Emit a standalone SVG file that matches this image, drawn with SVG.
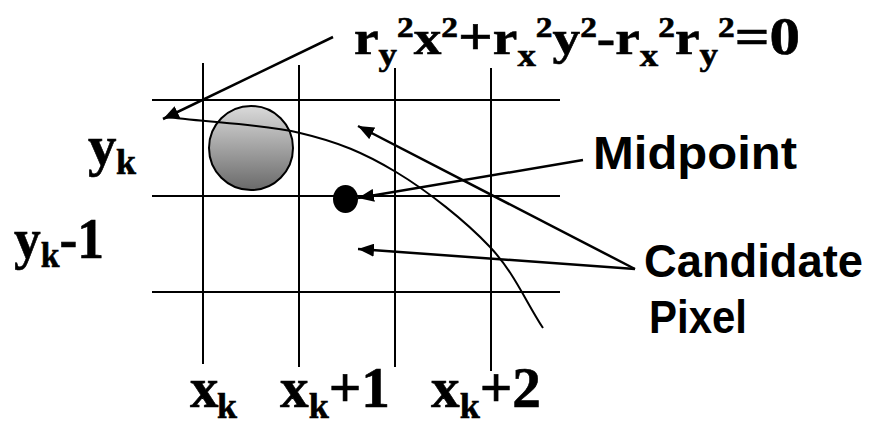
<svg xmlns="http://www.w3.org/2000/svg" width="871" height="425" viewBox="0 0 871 425">
<style>
.grid{stroke:#000;stroke-width:2;fill:none}
.conn{stroke:#000;stroke-width:2.5;fill:none}
.curve{stroke:#000;stroke-width:2;fill:none}
.math{font-family:"Liberation Serif","Times New Roman",serif;font-weight:bold;fill:#000;stroke:#000;stroke-width:0.6}
.lbl{font-family:"Liberation Sans",Arial,sans-serif;font-weight:bold;fill:#000}
.sub{font-size:32px}
.sup{font-size:29px}
.big{font-size:53px}
</style>
<defs>
<marker id="ah" markerUnits="userSpaceOnUse" markerWidth="17" markerHeight="13" refX="16" refY="6.5" orient="auto">
<path d="M0,0 L16,6.5 L0,13 z" fill="#000"/>
</marker>
<linearGradient id="cg" x1="0" y1="0" x2="0" y2="1">
<stop offset="0" stop-color="#dadada"/>
<stop offset="1" stop-color="#6a6a6a"/>
</linearGradient>
</defs>
<rect width="871" height="425" fill="#fff"/>
<g id="grid">
<line class="grid" x1="152" y1="100" x2="560" y2="100"/>
<line class="grid" x1="152" y1="196" x2="560" y2="196"/>
<line class="grid" x1="152" y1="292" x2="560" y2="292"/>
<line class="grid" x1="203" y1="63" x2="203" y2="364"/>
<line class="grid" x1="299" y1="65" x2="299" y2="367"/>
<line class="grid" x1="395" y1="68" x2="395" y2="367"/>
<line class="grid" x1="491" y1="68" x2="491" y2="371"/>
</g>
<g id="pixel">
<circle cx="251" cy="148" r="42" fill="url(#cg)" stroke="#000" stroke-width="2"/>
</g>
<g id="ellipse-curve">
<path class="curve" d="M168,117 C213,123 261.5,124 300,133 C338.5,142 364.3,153 396,172 C427.7,191 465.5,221 490,247 C514.5,273 525.3,301 543,328"/>
</g>
<g id="midpoint">
<ellipse cx="345.5" cy="199" rx="12.5" ry="14" fill="#000"/>
</g>
<g id="connectors">
<line class="conn" x1="333" y1="37" x2="163" y2="119" marker-end="url(#ah)"/>
<line class="conn" x1="583" y1="160" x2="358" y2="198" marker-end="url(#ah)"/>
<line class="conn" x1="635" y1="269" x2="358" y2="126" marker-end="url(#ah)"/>
<line class="conn" x1="635" y1="269" x2="358" y2="249" marker-end="url(#ah)"/>
</g>
<g id="equation">
<text class="math" x="354" y="54" font-size="48" textLength="446" lengthAdjust="spacingAndGlyphs">r<tspan class="sub" y="65">y</tspan><tspan class="sup" y="37">2</tspan><tspan y="54">x</tspan><tspan class="sup" y="37">2</tspan><tspan class="big" y="54">+</tspan><tspan y="54">r</tspan><tspan class="sub" y="66">x</tspan><tspan class="sup" y="37">2</tspan><tspan y="54">y</tspan><tspan class="sup" y="37">2</tspan><tspan y="54">-r</tspan><tspan class="sub" y="66">x</tspan><tspan class="sup" y="37">2</tspan><tspan y="54">r</tspan><tspan class="sub" y="65">y</tspan><tspan class="sup" y="37">2</tspan><tspan class="big" y="54">=0</tspan></text>
</g>
<g id="label-yk">
<text class="math" font-size="57"><tspan x="88" y="165">y</tspan><tspan x="116" y="174" font-size="36">k</tspan></text>
</g>
<g id="label-yk-1">
<text class="math" font-size="57" x="14" y="258" textLength="90" lengthAdjust="spacingAndGlyphs">y<tspan y="267" font-size="36">k</tspan><tspan y="258">-1</tspan></text>
</g>
<g id="label-xk">
<text class="math" font-size="57"><tspan x="190" y="407">x</tspan><tspan x="217" y="418" font-size="36">k</tspan></text>
</g>
<g id="label-xk1">
<text class="math" font-size="57" x="280" y="407" textLength="110" lengthAdjust="spacingAndGlyphs">x<tspan y="418" font-size="36">k</tspan><tspan y="407">+1</tspan></text>
</g>
<g id="label-xk2">
<text class="math" font-size="57" x="431" y="407" textLength="110" lengthAdjust="spacingAndGlyphs">x<tspan y="418" font-size="36">k</tspan><tspan y="407">+2</tspan></text>
</g>
<g id="label-midpoint">
<text class="lbl" x="593" y="169" font-size="47" textLength="204" lengthAdjust="spacingAndGlyphs">Midpoint</text>
</g>
<g id="label-candidate">
<text class="lbl" x="644" y="277" font-size="46" textLength="219" lengthAdjust="spacingAndGlyphs">Candidate</text>
<text class="lbl" x="649" y="333" font-size="47" textLength="98" lengthAdjust="spacingAndGlyphs">Pixel</text>
</g>
</svg>
